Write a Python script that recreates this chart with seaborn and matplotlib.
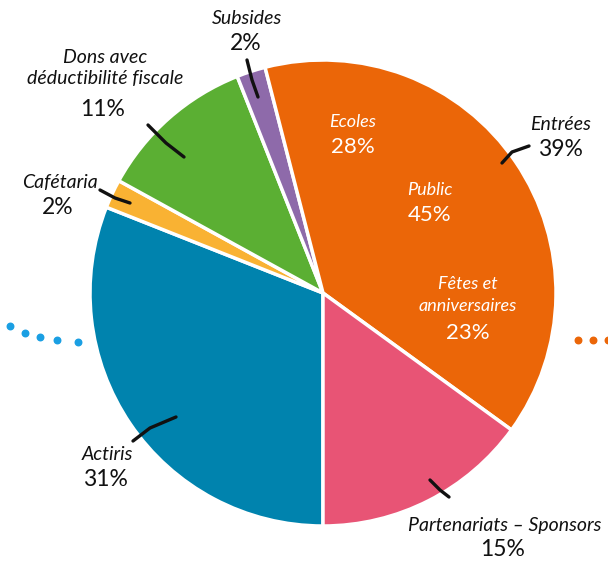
import matplotlib
matplotlib.use("Agg")
import matplotlib.pyplot as plt
import seaborn as sns

# Data
categories = ["Actiris", "Cafétaria", "Dons avec\ndéductibilité fiscale", "Subsides", "Entrées", "Partenariats – Sponsors"]
values = [31, 2, 11, 2, 39, 15]
colors = ["#0083AE", "#F9B233", "#5BAF33", "#8E6AAA", "#EB6608", "#E85475"]
entrees_parts = ["Ecoles", "Public", "Fêtes et\nanniversaires"]
entrees_values = [28, 45, 23]

sns.set_theme(style="white")
plt.rcParams['font.family'] = ['Lato', 'DejaVu Sans']

W, H = 608, 562
fig = plt.figure(figsize=(W / 100, H / 100), dpi=100)
ax = fig.add_axes([0, 0, 1, 1])

def py(y):
    return H - y

cx, cy, r = 323, py(293), 233
ax.pie(values, colors=colors, startangle=-90, counterclock=False,
       center=(cx, cy), radius=r, frame=True,
       wedgeprops=dict(edgecolor="white", linewidth=2.5))
ax.set_xlim(0, W)
ax.set_ylim(0, H)
ax.set_aspect("equal")
ax.axis("off")

lab_kw = dict(ha="center", va="center", color="#111111", style="italic", fontsize=14)
pct_kw = dict(ha="center", va="center", color="#111111", fontsize=16.5, fontweight="normal")

# Outside labels: (name pos, pct pos)
label_pos = {
    "Actiris": ((107, 455), (105, 480)),
    "Cafétaria": ((60, 182), (58, 207)),
    "Dons avec\ndéductibilité fiscale": ((105, 68), (103, 110)),
    "Subsides": ((247, 18), (246, 43)),
    "Entrées": ((560, 124), (560, 149)),
    "Partenariats – Sponsors": ((505, 525), (503, 550)),
}
for cat, v in zip(categories, values):
    (lx, ly), (px_, pyy) = label_pos[cat]
    ax.text(lx, py(ly), cat, linespacing=1.3, **lab_kw)
    ax.text(px_, py(pyy), f"{v}%", **pct_kw)

# Leader lines
leaders = [
    [(247, 60), (252, 80), (258, 97)],
    [(148, 125), (166, 143), (184, 157)],
    [(100, 190), (115, 198), (130, 203)],
    [(502, 163), (512, 152), (529, 146)],
    [(133, 441), (150, 428), (176, 417)],
    [(430, 480), (440, 490), (449, 497)],
]
for pts in leaders:
    ax.plot([p[0] for p in pts], [py(p[1]) for p in pts], color="#111111", lw=2.4,
            solid_capstyle="round")

# Inner labels for Entrées breakdown
inner_pos = [((353, 122), (353, 147)), ((430, 190), (430, 215)), ((468, 295), (468, 333))]
for name, v, ((nx, ny), (qx, qy)) in zip(entrees_parts, entrees_values, inner_pos):
    ax.text(nx, py(ny), name, ha="center", va="center", color="white", style="italic",
            fontsize=13, linespacing=1.5)
    ax.text(qx, py(qy), f"{v}%", ha="center", va="center", color="white", fontsize=16,
            fontweight="normal")

# Decorative dots
ax.scatter([10, 25, 40, 57, 78], [py(y) for y in [326, 333, 337, 340, 342]],
           s=22, color="#1A9FE3", zorder=3, clip_on=False)
ax.scatter([578, 593, 608], [py(340)] * 3, s=22, color="#EB6608", zorder=3, clip_on=False)

fig.savefig("out.png", dpi=100)
